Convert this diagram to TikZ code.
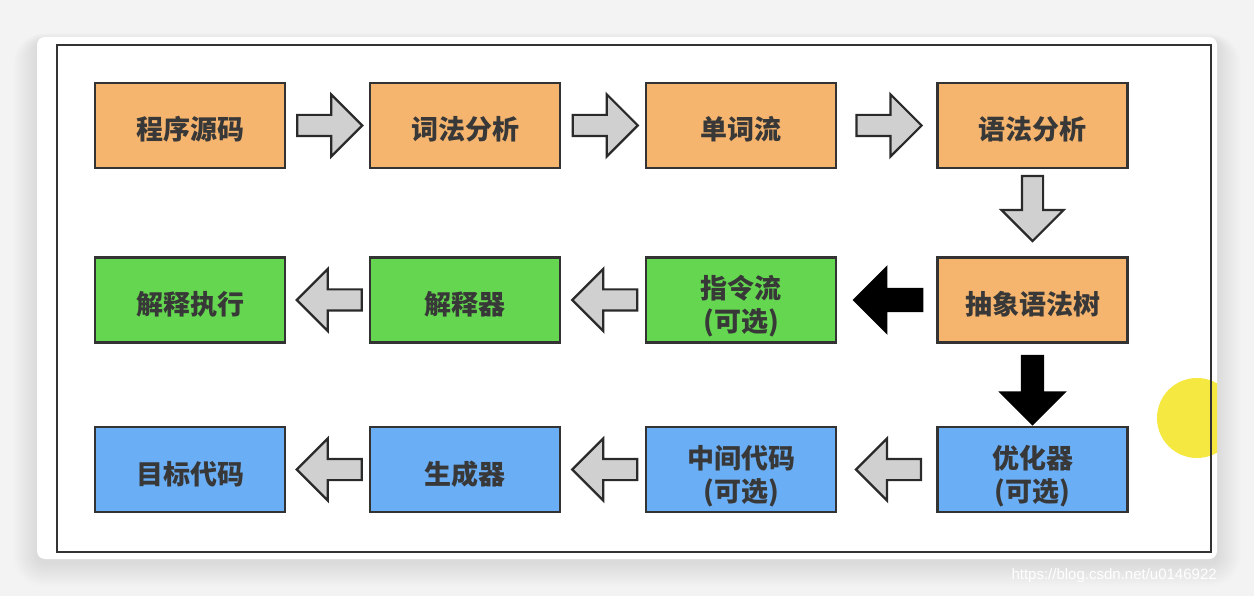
\documentclass[tikz,border=0pt]{standalone}
\usepackage{fontspec}
\newfontfamily\cjk{Noto Sans CJK SC}
\newfontfamily\wmfont{Liberation Sans}
\usetikzlibrary{shapes.arrows,calc}
\definecolor{orng}{HTML}{F6B56E}
\definecolor{grn}{HTML}{64D64F}
\definecolor{blu}{HTML}{6AAEF5}
\definecolor{boxline}{HTML}{333333}
\definecolor{txt}{HTML}{383838}
\definecolor{arrgray}{HTML}{D0D0D0}
\definecolor{arrline}{HTML}{2A2A2A}
\definecolor{page}{HTML}{F3F3F3}
\definecolor{cursor}{HTML}{F4E62C}
\tikzset{
  stage/.style={draw=boxline,line width=2.5pt,minimum width=190pt,minimum height=85pt,
    inner sep=0pt,align=center,text=txt,text height=29pt,text depth=0pt,
    font=\cjk\bfseries\fontsize{27}{33}\selectfont},
  twoline/.style={text height=64pt,text depth=1pt},
  lex/.style={stage,fill=orng},
  run/.style={stage,fill=grn},
  gen/.style={stage,fill=blu},
  garrow/.style={single arrow,draw=arrline,fill=arrgray,line width=2.2pt,inner xsep=0pt,
    inner ysep=9.5pt,minimum height=65pt,single arrow head extend=20.5pt},
  barrow/.style={garrow,draw=black,fill=black,inner ysep=10pt,minimum height=68pt,
    single arrow head extend=21pt},
  rightward/.style={xshift=-3pt},
  leftward/.style={shape border rotate=180,xshift=7pt},
  downward/.style={shape border rotate=270,inner ysep=0pt,inner xsep=9.5pt}
}
\begin{document}
\begin{tikzpicture}[x=1pt,y=-1pt]
\useasboundingbox (0,0) rectangle (1254,596);
\fill[page] (0,0) rectangle (1254,596);
% soft shadow under the card
\foreach \i in {1,...,24}
  \fill[black,opacity=0.005,rounded corners=8pt+\i*1pt] (37-\i,37-\i/3+4) rectangle (1217+\i,559+\i+4);
\fill[white,rounded corners=8pt] (37,37) rectangle (1217,559);
\begin{scope}
\clip[rounded corners=8pt] (37,37) rectangle (1217,559);
\fill[cursor,opacity=0.9] (1197,418) circle (40);
\end{scope}
\draw[boxline,line width=2.5pt] (57,45) rectangle (1211,552);
% stages
\node[lex] (s0) at (190,125.5) {程序源码};
\node[lex] (s1) at (465,125.5) {词法分析};
\node[lex] (s2) at (741,125.5) {单词流};
\node[lex] (s3) at (1032.5,125.5) {语法分析};
\node[lex] (s4) at (1032.5,300) {抽象语法树};
\node[run,twoline] (s5) at (741,300) {指令流\\(可选)};
\node[run] (s6) at (465,300) {解释器};
\node[run] (s7) at (190,300) {解释执行};
\node[gen,twoline] (s8) at (1032.5,469.5) {优化器\\(可选)};
\node[gen,twoline] (s9) at (741,469.5) {中间代码\\(可选)};
\node[gen] (s10) at (465,469.5) {生成器};
\node[gen] (s11) at (190,469.5) {目标代码};
% block arrows
\node[garrow,rightward] (a0) at ($(s0.east)!0.5!(s1.west)$) {};
\node[garrow,rightward] (a1) at ($(s1.east)!0.5!(s2.west)$) {};
\node[garrow,rightward] (a2) at ($(s2.east)!0.5!(s3.west)$) {};
\node[garrow,downward,yshift=9.5pt] (a3) at ($(s3.south)!0.5!(s4.north)$) {};
\node[barrow,leftward] (a4) at ($(s4.west)!0.5!(s5.east)$) {};
\node[garrow,leftward] (a5) at ($(s5.west)!0.5!(s6.east)$) {};
\node[garrow,leftward] (a6) at ($(s6.west)!0.5!(s7.east)$) {};
\node[barrow,downward] (a7) at ($(s4.south)!0.5!(s8.north)$) {};
\node[garrow,leftward] (a8) at ($(s8.west)!0.5!(s9.east)$) {};
\node[garrow,leftward] (a9) at ($(s9.west)!0.5!(s10.east)$) {};
\node[garrow,leftward] (a10) at ($(s10.west)!0.5!(s11.east)$) {};
\node[white,font=\wmfont\fontsize{15}{15}\selectfont,anchor=west] (wm) at (1008,576) {https://blog.csdn.net/u0146922};
\end{tikzpicture}
\end{document}
